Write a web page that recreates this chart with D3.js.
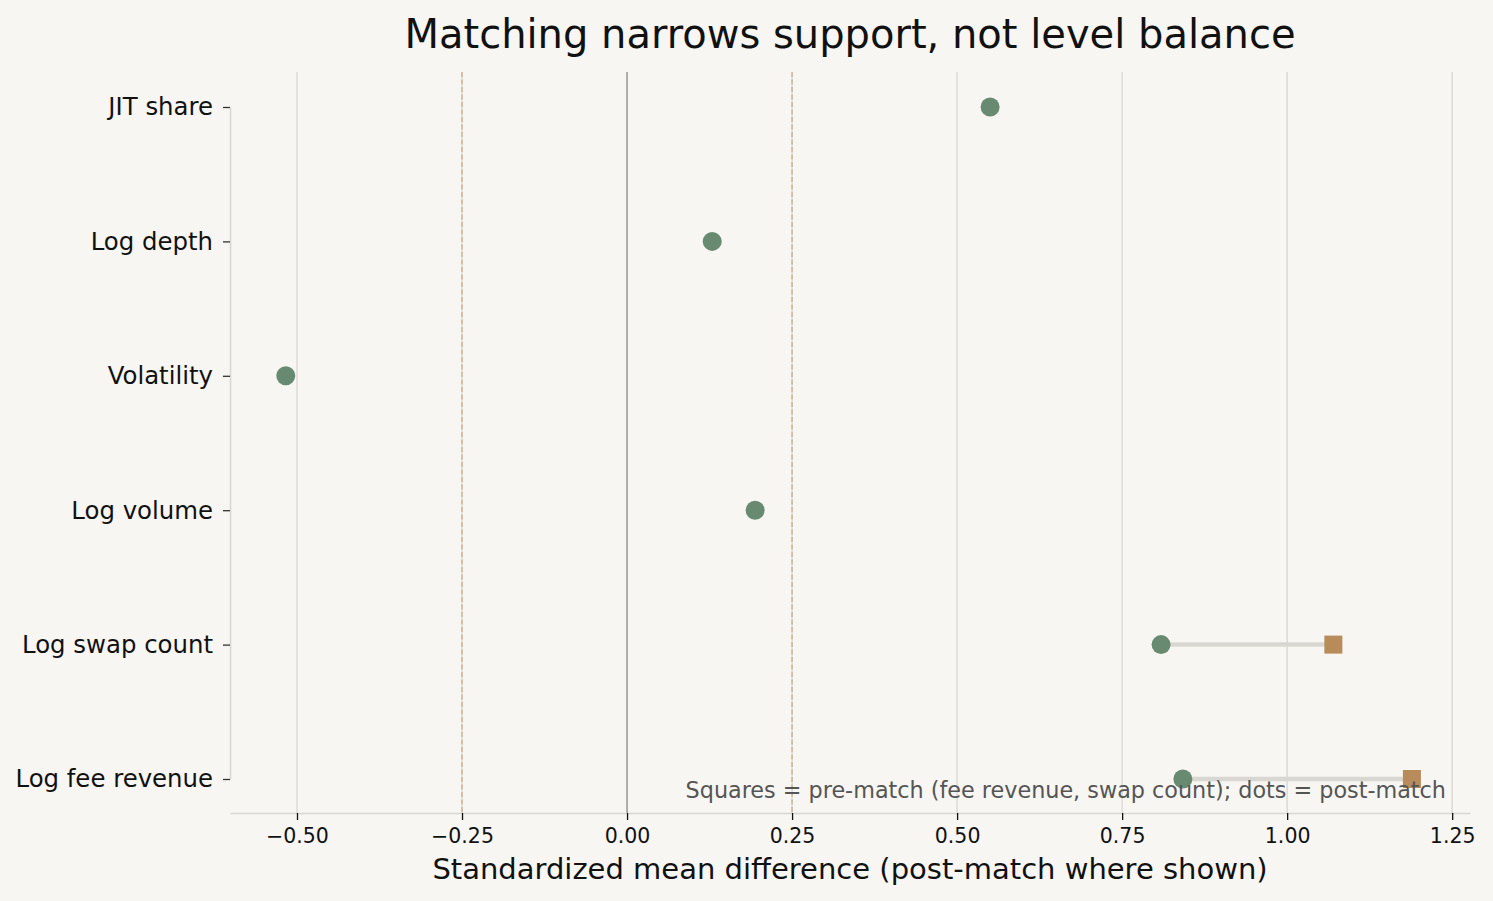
<!DOCTYPE html>
<html>
<head>
<meta charset="utf-8">
<script src="https://cdn.jsdelivr.net/npm/d3@7"></script>
<style>
  body { margin: 0; background: #f7f6f2; }
  svg { font-family: "DejaVu Sans", sans-serif; }
</style>
</head>
<body>
<div id="chart-area"></div>
<script>
// Covariates, top to bottom
let covariates = ["JIT share", "Log depth", "Volatility", "Log volume", "Log swap count", "Log fee revenue"];
// Post-match SMD (dots)
let postMatch = [0.55, 0.129, -0.517, 0.194, 0.809, 0.842];
// Pre-match SMD (squares), only where shown
let preMatch = [null, null, null, null, 1.07, 1.189];
let xTicks = [-0.5, -0.25, 0, 0.25, 0.5, 0.75, 1.0, 1.25];
let thresholds = [-0.25, 0.25];

let W = 1493, H = 901;
let margin = {top: 72, right: 23, bottom: 88, left: 230};
let width = W - margin.left - margin.right,
    height = H - margin.top - margin.bottom;

let svg = d3.select("#chart-area")
  .append("svg")
  .attr("width", W)
  .attr("height", H);

svg.append("rect").attr("width", W).attr("height", H).attr("fill", "#f7f6f2");

let g = svg.append("g")
  .attr("transform", "translate(" + margin.left + "," + margin.top + ")");

let x = d3.scaleLinear().domain([-0.6015, 1.277]).range([0, width]);
let y = d3.scalePoint().domain(covariates).range([35, height - 34]);

// vertical grid
g.selectAll(".grid")
  .data(xTicks)
  .enter()
  .append("line")
  .attr("x1", d => x(d)).attr("x2", d => x(d))
  .attr("y1", 0).attr("y2", height)
  .attr("stroke", d => d === 0 ? "#9a9a96" : "#dddbd6")
  .attr("stroke-width", d => d === 0 ? 1.6 : 1.5);

// +-0.25 thresholds
g.selectAll(".thr")
  .data(thresholds)
  .enter()
  .append("line")
  .attr("x1", d => x(d)).attr("x2", d => x(d))
  .attr("y1", 0).attr("y2", height)
  .attr("stroke", "#c9ad8f")
  .attr("stroke-width", 1.3)
  .attr("stroke-dasharray", "5,2.5");

// axes
let xAxis = d3.axisBottom(x).tickValues(xTicks)
  .tickFormat(d => d3.format(".2f")(d).replace("-", "\u2212"))
  .tickSize(7).tickSizeOuter(0).tickPadding(8);
let xAxisGroup = g.append("g")
  .attr("transform", "translate(0," + height + ")")
  .call(xAxis);
xAxisGroup.select(".domain").attr("stroke", "#d9d7d2").attr("stroke-width", 1.6);
xAxisGroup.selectAll(".tick line").attr("stroke", "#111").attr("stroke-width", 1.3);
xAxisGroup.selectAll(".tick text").attr("font-size", 20.5).attr("fill", "#111").attr("font-family", "DejaVu Sans");

let yAxis = d3.axisLeft(y).tickSize(7).tickSizeOuter(0).tickPadding(10);
let yAxisGroup = g.append("g").call(yAxis);
yAxisGroup.select(".domain").attr("stroke", "#d9d7d2").attr("stroke-width", 1.6);
yAxisGroup.selectAll(".tick line").attr("stroke", "#333").attr("stroke-width", 1.3);
yAxisGroup.selectAll(".tick text").attr("font-size", 24.4).attr("fill", "#111").attr("font-family", "DejaVu Sans");

// connectors pre -> post
let rows = covariates.map((c, i) => ({name: c, post: postMatch[i], pre: preMatch[i]}));
let withPre = rows.filter(d => d.pre !== null);

g.selectAll(".conn")
  .data(withPre)
  .enter()
  .append("line")
  .attr("x1", d => x(d.post)).attr("x2", d => x(d.pre))
  .attr("y1", d => y(d.name)).attr("y2", d => y(d.name))
  .attr("stroke", "#d9d7d2")
  .attr("stroke-width", 4.5);

// pre-match squares
let sq = 18;
g.selectAll(".pre")
  .data(withPre)
  .enter()
  .append("rect")
  .attr("x", d => x(d.pre) - sq / 2)
  .attr("y", d => y(d.name) - sq / 2)
  .attr("width", sq).attr("height", sq)
  .attr("fill", "#b88c5a");

// post-match dots
g.selectAll(".post")
  .data(rows)
  .enter()
  .append("circle")
  .attr("cx", d => x(d.post))
  .attr("cy", d => y(d.name))
  .attr("r", 9.5)
  .attr("fill", "#678a70");

// note
g.append("text")
  .attr("x", width - 24)
  .attr("y", height - 15)
  .attr("text-anchor", "end")
  .attr("font-size", 22.3)
  .attr("fill", "#555")
  .text("Squares = pre-match (fee revenue, swap count); dots = post-match");

// title + axis label
svg.append("text")
  .attr("x", 850)
  .attr("y", 48)
  .attr("text-anchor", "middle")
  .attr("font-size", 40)
  .attr("fill", "#111")
  .text("Matching narrows support, not level balance");

svg.append("text")
  .attr("x", 850)
  .attr("y", 879)
  .attr("text-anchor", "middle")
  .attr("font-size", 29)
  .attr("fill", "#111")
  .text("Standardized mean difference (post-match where shown)");
</script>
</body>
</html>
